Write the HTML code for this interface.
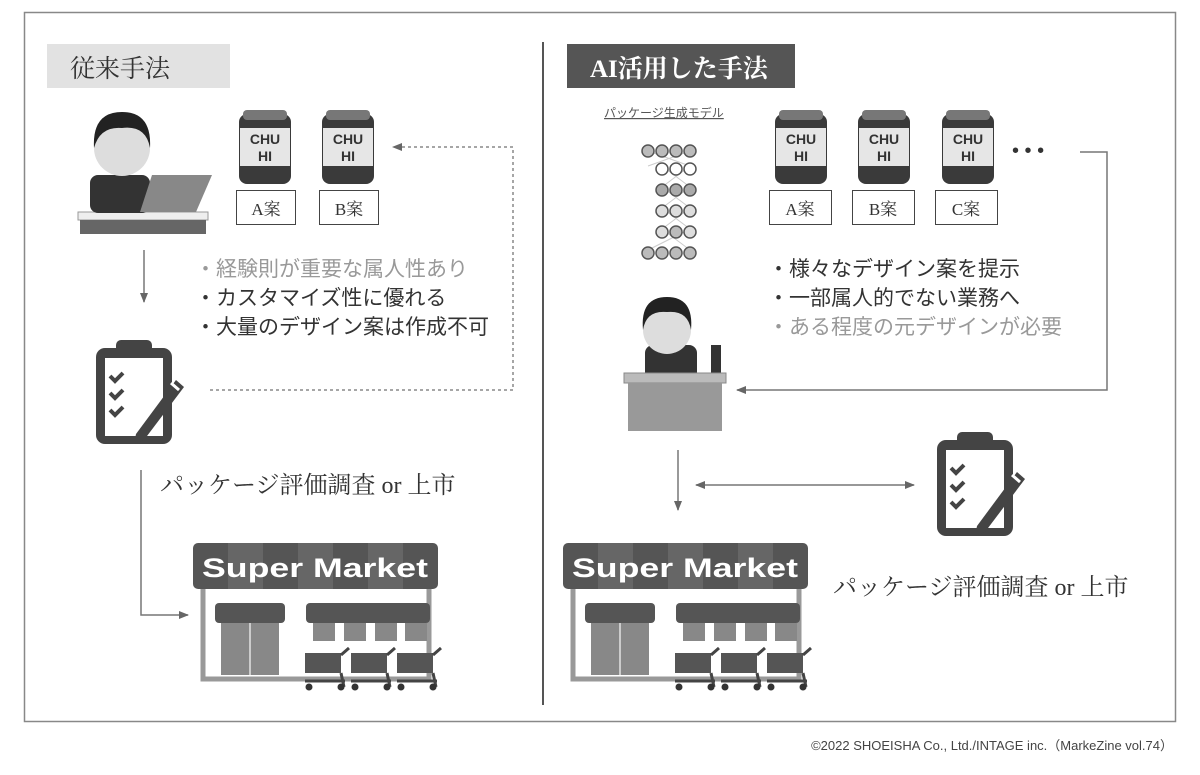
<!DOCTYPE html>
<html><head><meta charset="utf-8"><style>
body{margin:0;background:#fff;}
svg{display:block;font-family:"Liberation Sans","Noto Sans CJK JP",sans-serif;}
.jp{font-family:"Liberation Serif","Noto Serif CJK SC","Noto Sans CJK JP",serif;}
</style></head><body>
<svg width="1200" height="775" viewBox="0 0 1200 775" xmlns="http://www.w3.org/2000/svg">
<defs>
<marker id="ah" markerWidth="10" markerHeight="10" refX="9" refY="5" orient="auto" markerUnits="userSpaceOnUse"><path d="M0,1 L10,5 L0,9 z" fill="#666"/></marker>
<marker id="ahs" markerWidth="10" markerHeight="10" refX="1" refY="5" orient="auto" markerUnits="userSpaceOnUse"><path d="M10,1 L0,5 L10,9 z" fill="#666"/></marker>
<g id="can">
 <rect x="2" y="4" width="52" height="70" rx="8" fill="#3a3a3a"/>
 <rect x="6" y="0" width="44" height="10" rx="4" fill="#777"/>
 <rect x="3" y="18" width="50" height="38" fill="#e6e6e6"/>
 <text x="28" y="34" text-anchor="middle" font-size="14" font-weight="bold" fill="#333">CHU</text>
 <text x="28" y="51" text-anchor="middle" font-size="14" font-weight="bold" fill="#333">HI</text>
</g>
<g id="clip">
 <rect x="0" y="10" width="76" height="96" rx="9" fill="#444"/>
 <rect x="9" y="20" width="58" height="78" fill="#fff"/>
 <rect x="20" y="2" width="36" height="18" rx="5" fill="#444"/>
 <path d="M14,38 l5,5 l8,-8 M14,55 l5,5 l8,-8 M14,72 l5,5 l8,-8" stroke="#444" stroke-width="4" fill="none"/>
 <path d="M40,96 L80,42 L88,49 L48,102 L38,106 z" fill="#444"/>
 <path d="M75,45 l8,7" stroke="#fff" stroke-width="3"/>
</g>
<g id="cart">
 <rect x="0" y="0" width="36" height="20" fill="#555"/>
 <path d="M36,2 l8,-7 M36,20 l3,14 M0,28 L40,28" stroke="#444" stroke-width="3" fill="none"/>
 <circle cx="4" cy="34" r="3.5" fill="#333"/><circle cx="36" cy="34" r="3.5" fill="#333"/>
</g>
<g id="market">
 <rect x="10" y="40" width="226" height="96" fill="#fff" stroke="#999" stroke-width="5"/>
 <rect x="0" y="0" width="245" height="46" rx="5" fill="#555"/>
 <rect x="35" y="0" width="35" height="46" fill="#666"/><rect x="105" y="0" width="35" height="46" fill="#666"/><rect x="175" y="0" width="35" height="46" fill="#666"/>
 <text x="122" y="34" text-anchor="middle" font-size="27" font-weight="bold" fill="#fff" textLength="226" lengthAdjust="spacingAndGlyphs">Super Market</text>
 <rect x="22" y="60" width="70" height="20" rx="4" fill="#555"/>
 <rect x="28" y="80" width="58" height="52" fill="#888"/>
 <line x1="57" y1="80" x2="57" y2="132" stroke="#ccc" stroke-width="2"/>
 <rect x="113" y="60" width="124" height="20" rx="4" fill="#555"/>
 <rect x="120" y="80" width="22" height="18" fill="#888"/><rect x="151" y="80" width="22" height="18" fill="#888"/><rect x="182" y="80" width="22" height="18" fill="#888"/><rect x="212" y="80" width="22" height="18" fill="#888"/>
 <use href="#cart" x="112" y="110"/><use href="#cart" x="158" y="110"/><use href="#cart" x="204" y="110"/>
</g>
</defs>

<rect x="24.5" y="12.5" width="1151" height="709" fill="none" stroke="#888" stroke-width="1.5"/>
<line x1="543" y1="42" x2="543" y2="705" stroke="#555" stroke-width="2"/>

<rect x="47" y="44" width="183" height="44" fill="#e2e2e2"/>
<text x="70" y="77" font-size="25" fill="#333" class="jp">従来手法</text>
<rect x="567" y="44" width="228" height="44" fill="#555"/>
<text x="590" y="77" font-size="25" fill="#fff" font-weight="bold" class="jp">AI活用した手法</text>

<!-- left person -->
<rect x="78" y="212" width="130" height="8" fill="#eee" stroke="#999"/>
<rect x="80" y="220" width="126" height="14" fill="#666"/>
<rect x="90" y="175" width="60" height="38" rx="8" fill="#333"/>
<circle cx="122" cy="148" r="28" fill="#ddd"/>
<path d="M94,148 Q92,112 122,112 Q152,112 150,148 Q146,125 122,128 Q100,126 94,148z" fill="#222"/>
<polygon points="140,212 152,175 212,175 196,212" fill="#888"/>

<use href="#can" x="237" y="110"/><use href="#can" x="320" y="110"/>
<rect x="236.5" y="190.5" width="59" height="34" fill="#fff" stroke="#444"/>
<text x="266" y="215" text-anchor="middle" font-size="17" class="jp" fill="#333">A案</text>
<rect x="319.5" y="190.5" width="59" height="34" fill="#fff" stroke="#444"/>
<text x="349" y="215" text-anchor="middle" font-size="17" class="jp" fill="#333">B案</text>

<polyline points="210,390 513,390 513,147 393,147" fill="none" stroke="#888" stroke-width="1.5" stroke-dasharray="3,3" marker-end="url(#ah)"/>
<line x1="144" y1="250" x2="144" y2="302" stroke="#777" stroke-width="1.5" marker-end="url(#ah)"/>
<polyline points="141,470 141,615 188,615" fill="none" stroke="#777" stroke-width="1.5" marker-end="url(#ah)"/>

<g font-size="21">
<text x="195" y="276" fill="#999">・経験則が重要な属人性あり</text>
<text x="195" y="305" fill="#333">・カスタマイズ性に優れる</text>
<text x="195" y="334" fill="#333">・大量のデザイン案は作成不可</text>
</g>
<use href="#clip" x="96" y="338"/>
<text x="160" y="493" font-size="24" fill="#333" class="jp">パッケージ評価調査 or 上市</text>
<use href="#market" x="193" y="543"/>

<!-- right -->
<text x="604" y="117" font-size="12" fill="#555" text-decoration="underline">パッケージ生成モデル</text>
<g stroke="#ccc" stroke-width="1">
<path d="M648,151 L690,166 M690,151 L648,166 M662,166 L690,187 M690,166 L662,187 M662,187 L690,208 M690,187 L662,208 M662,208 L690,229 M690,208 L662,229 M648,250 L690,229 M690,250 L662,229"/>
</g>
<g stroke="#555" stroke-width="1.5">
<circle cx="648" cy="151" r="6" fill="#bbb"/><circle cx="662" cy="151" r="6" fill="#bbb"/><circle cx="676" cy="151" r="6" fill="#bbb"/><circle cx="690" cy="151" r="6" fill="#bbb"/>
<circle cx="662" cy="169" r="6" fill="#fff"/><circle cx="676" cy="169" r="6" fill="#fff"/><circle cx="690" cy="169" r="6" fill="#fff"/>
<circle cx="662" cy="190" r="6" fill="#aaa"/><circle cx="676" cy="190" r="6" fill="#aaa"/><circle cx="690" cy="190" r="6" fill="#aaa"/>
<circle cx="662" cy="211" r="6" fill="#ddd"/><circle cx="676" cy="211" r="6" fill="#ddd"/><circle cx="690" cy="211" r="6" fill="#ddd"/>
<circle cx="662" cy="232" r="6" fill="#ddd"/><circle cx="676" cy="232" r="6" fill="#bbb"/><circle cx="690" cy="232" r="6" fill="#ddd"/>
<circle cx="648" cy="253" r="6" fill="#bbb"/><circle cx="662" cy="253" r="6" fill="#bbb"/><circle cx="676" cy="253" r="6" fill="#bbb"/><circle cx="690" cy="253" r="6" fill="#bbb"/>
</g>

<use href="#can" x="773" y="110"/><use href="#can" x="856" y="110"/><use href="#can" x="940" y="110"/>
<rect x="769.5" y="190.5" width="62" height="34" fill="#fff" stroke="#444"/>
<text x="800" y="215" text-anchor="middle" font-size="17" class="jp" fill="#333">A案</text>
<rect x="852.5" y="190.5" width="62" height="34" fill="#fff" stroke="#444"/>
<text x="883" y="215" text-anchor="middle" font-size="17" class="jp" fill="#333">B案</text>
<rect x="935.5" y="190.5" width="62" height="34" fill="#fff" stroke="#444"/>
<text x="966" y="215" text-anchor="middle" font-size="17" class="jp" fill="#333">C案</text>
<text x="1012" y="157" font-size="20" fill="#333">• • •</text>

<polyline points="1080,152 1107,152 1107,390 737,390" fill="none" stroke="#777" stroke-width="1.5" marker-end="url(#ah)"/>

<g font-size="21">
<text x="768" y="276" fill="#333">・様々なデザイン案を提示</text>
<text x="768" y="305" fill="#333">・一部属人的でない業務へ</text>
<text x="768" y="334" fill="#999">・ある程度の元デザインが必要</text>
</g>

<rect x="645" y="345" width="52" height="35" rx="8" fill="#333"/>
<circle cx="667" cy="330" r="24" fill="#ddd"/>
<path d="M643,330 Q640,297 667,297 Q694,297 691,330 Q688,310 667,312 Q646,310 643,330z" fill="#222"/>
<rect x="711" y="345" width="10" height="30" fill="#333"/>
<rect x="624" y="373" width="102" height="10" fill="#bbb" stroke="#888"/>
<rect x="628" y="383" width="94" height="48" fill="#999"/>

<line x1="678" y1="450" x2="678" y2="510" stroke="#777" stroke-width="1.5" marker-end="url(#ah)"/>
<line x1="696" y1="485" x2="914" y2="485" stroke="#777" stroke-width="1.5" marker-start="url(#ahs)" marker-end="url(#ah)"/>
<use href="#clip" x="937" y="430"/>
<use href="#market" x="563" y="543"/>
<text x="833" y="595" font-size="24" fill="#333" class="jp">パッケージ評価調査 or 上市</text>

<text x="1173" y="750" text-anchor="end" font-size="13" fill="#444">©2022 SHOEISHA Co., Ltd./INTAGE inc.（MarkeZine vol.74）</text>
</svg>
</body></html>
